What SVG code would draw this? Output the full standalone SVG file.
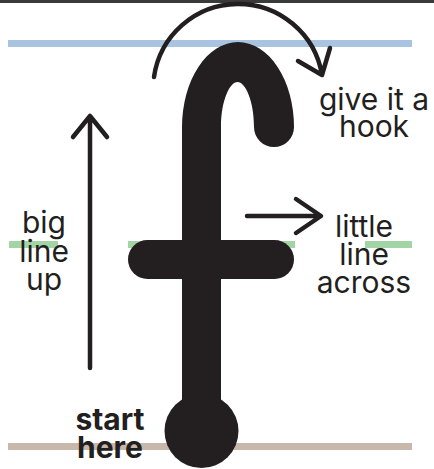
<svg xmlns="http://www.w3.org/2000/svg" width="434" height="469" viewBox="0 0 434 469">
<style>
.lbl{font-family:Inter,"Liberation Sans",sans-serif;font-size:30px;fill:#231f20;text-anchor:middle}
.bold{font-weight:700}
.arr{fill:none;stroke:#231f20;stroke-width:4.5;stroke-linecap:round;stroke-linejoin:round}
.ink{fill:#231f20}
</style>
<rect x="0" y="0" width="434" height="469" fill="#ffffff"/>
<rect x="0" y="0" width="434" height="3" fill="#3a3a3a"/>
<g id="guides">
<rect x="8" y="40" width="404" height="7" fill="#a8c4e0"/>
<rect x="9" y="241" width="49" height="7" fill="#a3d4a6"/>
<rect x="128" y="241" width="167" height="7" fill="#a3d4a6"/>
<rect x="365" y="241" width="47" height="7" fill="#a3d4a6"/>
<rect x="8" y="443" width="404" height="7" fill="#c8b8ab"/>
</g>
<g id="letter-f">
<path class="ink" d="M182,430 V127 A56,85 0 0 1 294,127 A20,20 0 0 1 254,127 C254,100 245,82 237.5,82 C230,82 221,100 221,127 V430 Z"/>
<circle class="ink" cx="201.5" cy="431" r="37"/>
<rect class="ink" x="128" y="240" width="166" height="39" rx="19.5"/>
</g>
<g id="connectors">
<path class="arr" d="M90,368 V117 M73,137 L90,116 L107,137"/>
<path class="arr" d="M247,216 H320 M296,199 L321,216 L296,233"/>
<path class="arr" d="M154,77 A85,85 0 0 1 322,75 M298,61 L322,75 L330,48"/>
</g>
<g id="label-hook">
<text class="lbl" x="374" y="110">give it a</text>
<text class="lbl" x="374" y="137">hook</text>
</g>
<g id="label-across">
<text class="lbl" x="364" y="237">little</text>
<text class="lbl" x="364" y="265">line</text>
<text class="lbl" x="364" y="293">across</text>
</g>
<g id="label-up">
<text class="lbl" x="44" y="233">big</text>
<text class="lbl" x="44" y="262">line</text>
<text class="lbl" x="44" y="290">up</text>
</g>
<g id="label-start">
<text class="lbl bold" x="110" y="430">start</text>
<text class="lbl bold" x="110" y="458">here</text>
</g>
</svg>
